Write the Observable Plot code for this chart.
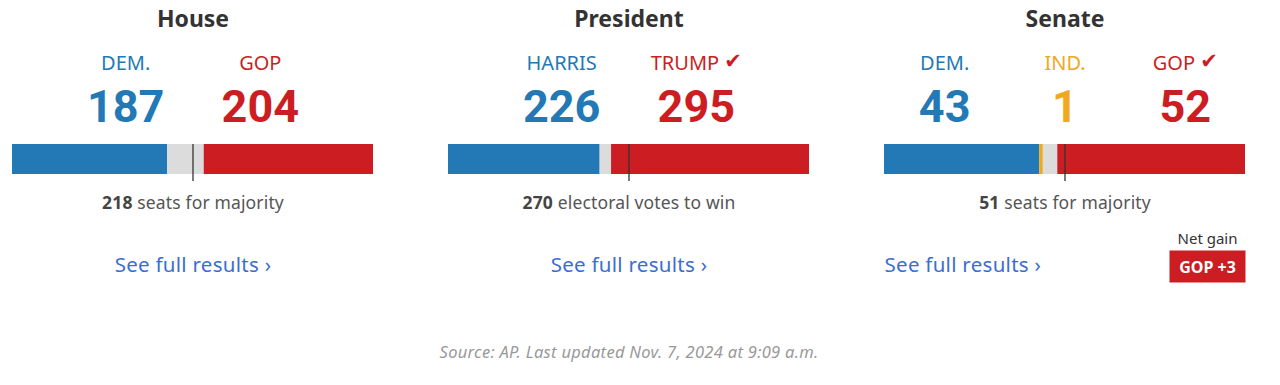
<!DOCTYPE html>
<html>
<head>
<meta charset="utf-8">
<script src="https://cdn.jsdelivr.net/npm/d3@7"></script>
<script src="https://cdn.jsdelivr.net/npm/@observablehq/plot@0.6"></script>
<style>
  html, body { margin: 0; padding: 0; background: #fff; }
  #chart { width: 1280px; height: 385px; }
</style>
</head>
<body>
<div id="chart"></div>
<script>
// ---- data ----
const races = ["House", "President", "Senate"];
const raceTotals = [435, 538, 100];
const majorityValues = [218, 270, 51];
const majorityTexts = ["seats for majority", "electoral votes to win", "seats for majority"];

const houseLabels = ["DEM.", "GOP"];
const houseKeys = ["dem", "gop"];
const houseSeats = [187, 204];

const presidentLabels = ["HARRIS", "TRUMP"];
const presidentKeys = ["dem", "gop"];
const presidentVotes = [226, 295];

const senateLabels = ["DEM.", "IND.", "GOP"];
const senateKeys = ["dem", "ind", "gop"];
const senateSeats = [43, 1, 52];

const winners = [null, "gop", "gop"];
const netGainTitle = "Net gain";
const netGains = [null, null, "GOP +3"];
const linkText = "See full results ›";
const sourceNote = "Source: AP. Last updated Nov. 7, 2024 at 9:09 a.m.";

const partyKeys = ["dem", "ind", "open", "gop"];
const partyColors = ["#2379b5", "#f2a81d", "#dcdcdc", "#cc1e22"];

// ---- derived tables ----
const raceParties = [
  {labels: houseLabels, keys: houseKeys, values: houseSeats},
  {labels: presidentLabels, keys: presidentKeys, values: presidentVotes},
  {labels: senateLabels, keys: senateKeys, values: senateSeats}
];

const raceRows = races.map((race, i) => ({
  race, total: raceTotals[i], majority: majorityValues[i],
  majorityText: majorityTexts[i], netGain: netGains[i]
}));

const candidates = [];
const segments = [];
raceParties.forEach((p, i) => {
  const n = p.labels.length;
  const step = n === 3 ? 1 / 3 : 0.373;
  p.labels.forEach((label, j) => {
    candidates.push({
      race: races[i], label, key: p.keys[j], value: p.values[j],
      winner: winners[i] === p.keys[j],
      pos: 0.5 + (j - (n - 1) / 2) * step
    });
  });
  const total = raceTotals[i];
  const get = k => { const j = p.keys.indexOf(k); return j < 0 ? 0 : p.values[j]; };
  const dem = get("dem"), ind = get("ind"), gop = get("gop");
  segments.push(
    {race: races[i], key: "dem", x1: 0, x2: dem / total},
    {race: races[i], key: "ind", x1: dem / total, x2: (dem + ind) / total},
    {race: races[i], key: "open", x1: (dem + ind) / total, x2: 1 - gop / total},
    {race: races[i], key: "gop", x1: 1 - gop / total, x2: 1}
  );
});

const linkColor = "#3b6dcf";
const textFont = "'Noto Sans', 'Open Sans', sans-serif";
const numberFont = "Roboto, 'Noto Sans', sans-serif";

const chart = Plot.plot({
  width: 1280,
  height: 385,
  marginTop: 144,
  marginBottom: 211,
  marginLeft: 11,
  marginRight: 34,
  style: {fontFamily: textFont, background: "#fff"},
  x: {domain: [0, 1], axis: null},
  fx: {domain: races, paddingInner: 0.171, paddingOuter: 0, axis: null},
  color: {domain: partyKeys, range: partyColors},
  marks: [
    Plot.barX(segments, {fx: "race", x1: "x1", x2: "x2", fill: "key"}),
    Plot.ruleX(raceRows, {fx: "race", x: d => 0.5, stroke: "#333", strokeWidth: 1.3, insetBottom: -7}),
    // titles
    Plot.text(raceRows, {fx: "race", text: "race", frameAnchor: "top", lineAnchor: "bottom", dy: -118,
      fontSize: 23, fontWeight: 700, fill: "#333"}),
    // party / candidate labels
    Plot.text(candidates, {fx: "race", x: "pos", text: d => d.winner ? d.label + " ✔" : d.label,
      frameAnchor: "top", lineAnchor: "bottom", dy: -75, fontSize: 20, fill: "key"}),
    // counts
    Plot.text(candidates, {fx: "race", x: "pos", text: d => String(d.value),
      frameAnchor: "top", lineAnchor: "bottom", dy: -23, fontSize: 45, fontWeight: 700, fill: "key",
      fontFamily: numberFont}),
    // majority notes
    Plot.text(raceRows, {fx: "race", text: d => `${d.majority} ${d.majorityText}`,
      frameAnchor: "bottom", lineAnchor: "bottom", dy: 34, fontSize: 17.5, fill: "#555"}),
    // links
    Plot.text(raceRows.filter(d => d.race !== "Senate"), {fx: "race", text: d => linkText,
      frameAnchor: "bottom", lineAnchor: "bottom", dy: 97, fontSize: 20.5, fill: linkColor}),
    Plot.text(raceRows.filter(d => d.race === "Senate"), {fx: "race", text: d => linkText,
      frameAnchor: "bottom-left", textAnchor: "start", lineAnchor: "bottom", dy: 97, fontSize: 20.5, fill: linkColor}),
    // net gain
    Plot.text(raceRows.filter(d => d.netGain), {fx: "race", text: d => netGainTitle,
      frameAnchor: "bottom-right", textAnchor: "middle", lineAnchor: "bottom", dx: -38, dy: 69, fontSize: 15, fill: "#333"}),
    Plot.text(raceRows.filter(d => d.netGain), {fx: "race", text: "netGain",
      frameAnchor: "bottom-right", textAnchor: "middle", lineAnchor: "bottom", dx: -38, dy: 98, fontSize: 16, fontWeight: 700, fill: "#fff"}),
    // source
    Plot.text([sourceNote], {fx: () => "President", text: d => d,
      frameAnchor: "bottom", lineAnchor: "bottom", dy: 183, fontSize: 16.5, fontStyle: "italic", fill: "#999"})
  ]
});

document.getElementById("chart").appendChild(chart);

// ---- post-processing: bold majority numbers, check marks, net gain badge, tracking ----
const majorityStrings = raceRows.map(d => `${d.majority} ${d.majorityText}`);
const badgeStrings = netGains.filter(Boolean);
d3.select(chart).selectAll("text").each(function () {
  const el = d3.select(this);
  const t = this.textContent;
  if (majorityStrings.includes(t)) {
    const k = t.indexOf(" ");
    el.text(null).style("letter-spacing", "0.15px");
    el.append("tspan").attr("font-weight", 700).attr("fill", "#444").text(t.slice(0, k));
    el.append("tspan").text(t.slice(k));
  } else if (t.endsWith(" ✔")) {
    const name = t.slice(0, -2);
    el.text(null);
    el.append("tspan").text(name + " ");
    el.append("tspan").attr("font-family", "'DejaVu Sans'").attr("font-size", "1.05em").attr("dy", "-0.05em").text("✔");
  } else if (t === linkText) {
    el.style("letter-spacing", "0.28px");
  } else if (t === sourceNote) {
    el.style("letter-spacing", "0.3px");
  } else if (badgeStrings.includes(t)) {
    const bb = this.getBBox();
    const cx = bb.x + bb.width / 2, cy = bb.y + bb.height / 2;
    d3.select(this.parentNode).insert("rect", () => this)
      .attr("transform", el.attr("transform"))
      .attr("x", cx - 38).attr("y", cy - 16)
      .attr("width", 76).attr("height", 32)
      .attr("fill", partyColors[3]);
  }
});
</script>
</body>
</html>
